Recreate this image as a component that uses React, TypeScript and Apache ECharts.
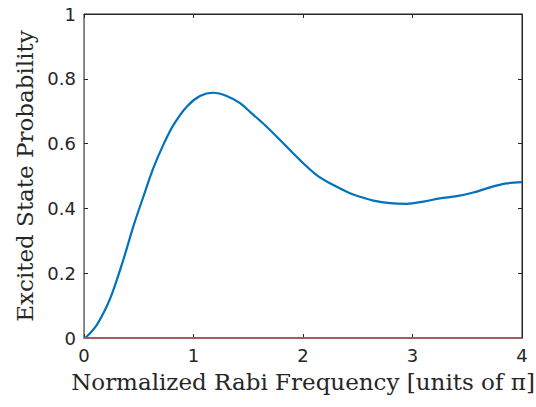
import React, { useEffect, useRef } from "react";
import * as echarts from "echarts";

const rabiX = [0, 0.024, 0.116, 0.207, 0.268, 0.359, 0.45, 0.542, 0.633, 0.724, 0.816, 0.938, 1.059, 1.181, 1.303, 1.425, 1.516, 1.668, 1.82, 1.973, 2.125, 2.277, 2.429, 2.52, 2.642, 2.795, 2.947, 3.099, 3.251, 3.404, 3.555, 3.708, 3.86, 4.0];
const probY = [0, 0.004, 0.04, 0.097, 0.148, 0.241, 0.344, 0.436, 0.524, 0.596, 0.657, 0.714, 0.747, 0.757, 0.747, 0.725, 0.698, 0.652, 0.601, 0.549, 0.503, 0.472, 0.447, 0.436, 0.424, 0.416, 0.414, 0.421, 0.431, 0.438, 0.449, 0.465, 0.477, 0.481];
const groundX = [0, 4];
const groundY = [0, 0];
const xTicks = [0, 1, 2, 3, 4];
const yTicks = [0, 0.2, 0.4, 0.6, 0.8, 1];

export default function App() {
  const ref = useRef<HTMLDivElement>(null);
  useEffect(() => {
    if (!ref.current) return;
    const chart = echarts.init(ref.current, null, { renderer: "svg" });
    const tickFont = { fontFamily: "DejaVu Sans, Arial, sans-serif", fontSize: 18, color: "#262626" };
    const titleFont = { fontFamily: "DejaVu Serif, serif", fontSize: 23, color: "#262626" };
    chart.setOption({
      animation: false,
      grid: {
        left: 84, top: 14, right: 14, bottom: 69, show: true, borderColor: "#262626", borderWidth: 1,
        backgroundColor: "#fff", containLabel: false, outerBoundsMode: "none",
      },
      xAxis: [
        {
          type: "value", min: xTicks[0], max: xTicks[xTicks.length - 1], interval: 1,
          name: "Normalized Rabi Frequency [units of π]", nameLocation: "middle", nameGap: 32,
          nameTextStyle: titleFont,
          axisLine: { show: true, onZero: false, lineStyle: { color: "#262626", width: 1 } },
          axisTick: { show: true, inside: true, length: 4, lineStyle: { color: "#262626" } },
          axisLabel: { ...tickFont, margin: 8 },
          splitLine: { show: false },
        },
        {
          type: "value", position: "top", min: 0, max: 4, interval: 1,
          axisLine: { show: true, onZero: false, lineStyle: { color: "#262626", width: 1 } },
          axisTick: { show: true, inside: true, length: 4, lineStyle: { color: "#262626" } },
          axisLabel: { show: false }, splitLine: { show: false },
        },
      ],
      yAxis: [
        {
          type: "value", min: yTicks[0], max: yTicks[yTicks.length - 1], interval: 0.2,
          name: "Excited State Probability", nameLocation: "middle", nameGap: 45,
          nameTextStyle: titleFont,
          axisLine: { show: true, onZero: false, lineStyle: { color: "#808080", width: 1 } },
          axisTick: { show: true, inside: true, length: 4, lineStyle: { color: "#262626" } },
          axisLabel: { ...tickFont, margin: 8, formatter: (v: number) => String(Math.round(v * 10) / 10) },
          splitLine: { show: false },
        },
        {
          type: "value", position: "right", min: 0, max: 1, interval: 0.2,
          axisLine: { show: true, onZero: false, lineStyle: { color: "#262626", width: 1 } },
          axisTick: { show: true, inside: true, length: 4, lineStyle: { color: "#262626" } },
          axisLabel: { show: false }, splitLine: { show: false },
        },
      ],
      series: [
        {
          type: "line", smooth: 0.3, symbol: "none",
          data: rabiX.map((x, i) => [x, probY[i]]),
          lineStyle: { color: "#0072BD", width: 2.2 },
          z: 3,
        },
        {
          type: "line", symbol: "none",
          data: groundX.map((x, i) => [x, groundY[i]]),
          lineStyle: { color: "#A85A64", width: 2 },
          z: 4,
        },
      ],
    });
    return () => chart.dispose();
  }, []);
  return <div ref={ref} style={{ width: 536, height: 407, position: "absolute", left: 0, top: 0 }} />;
}
